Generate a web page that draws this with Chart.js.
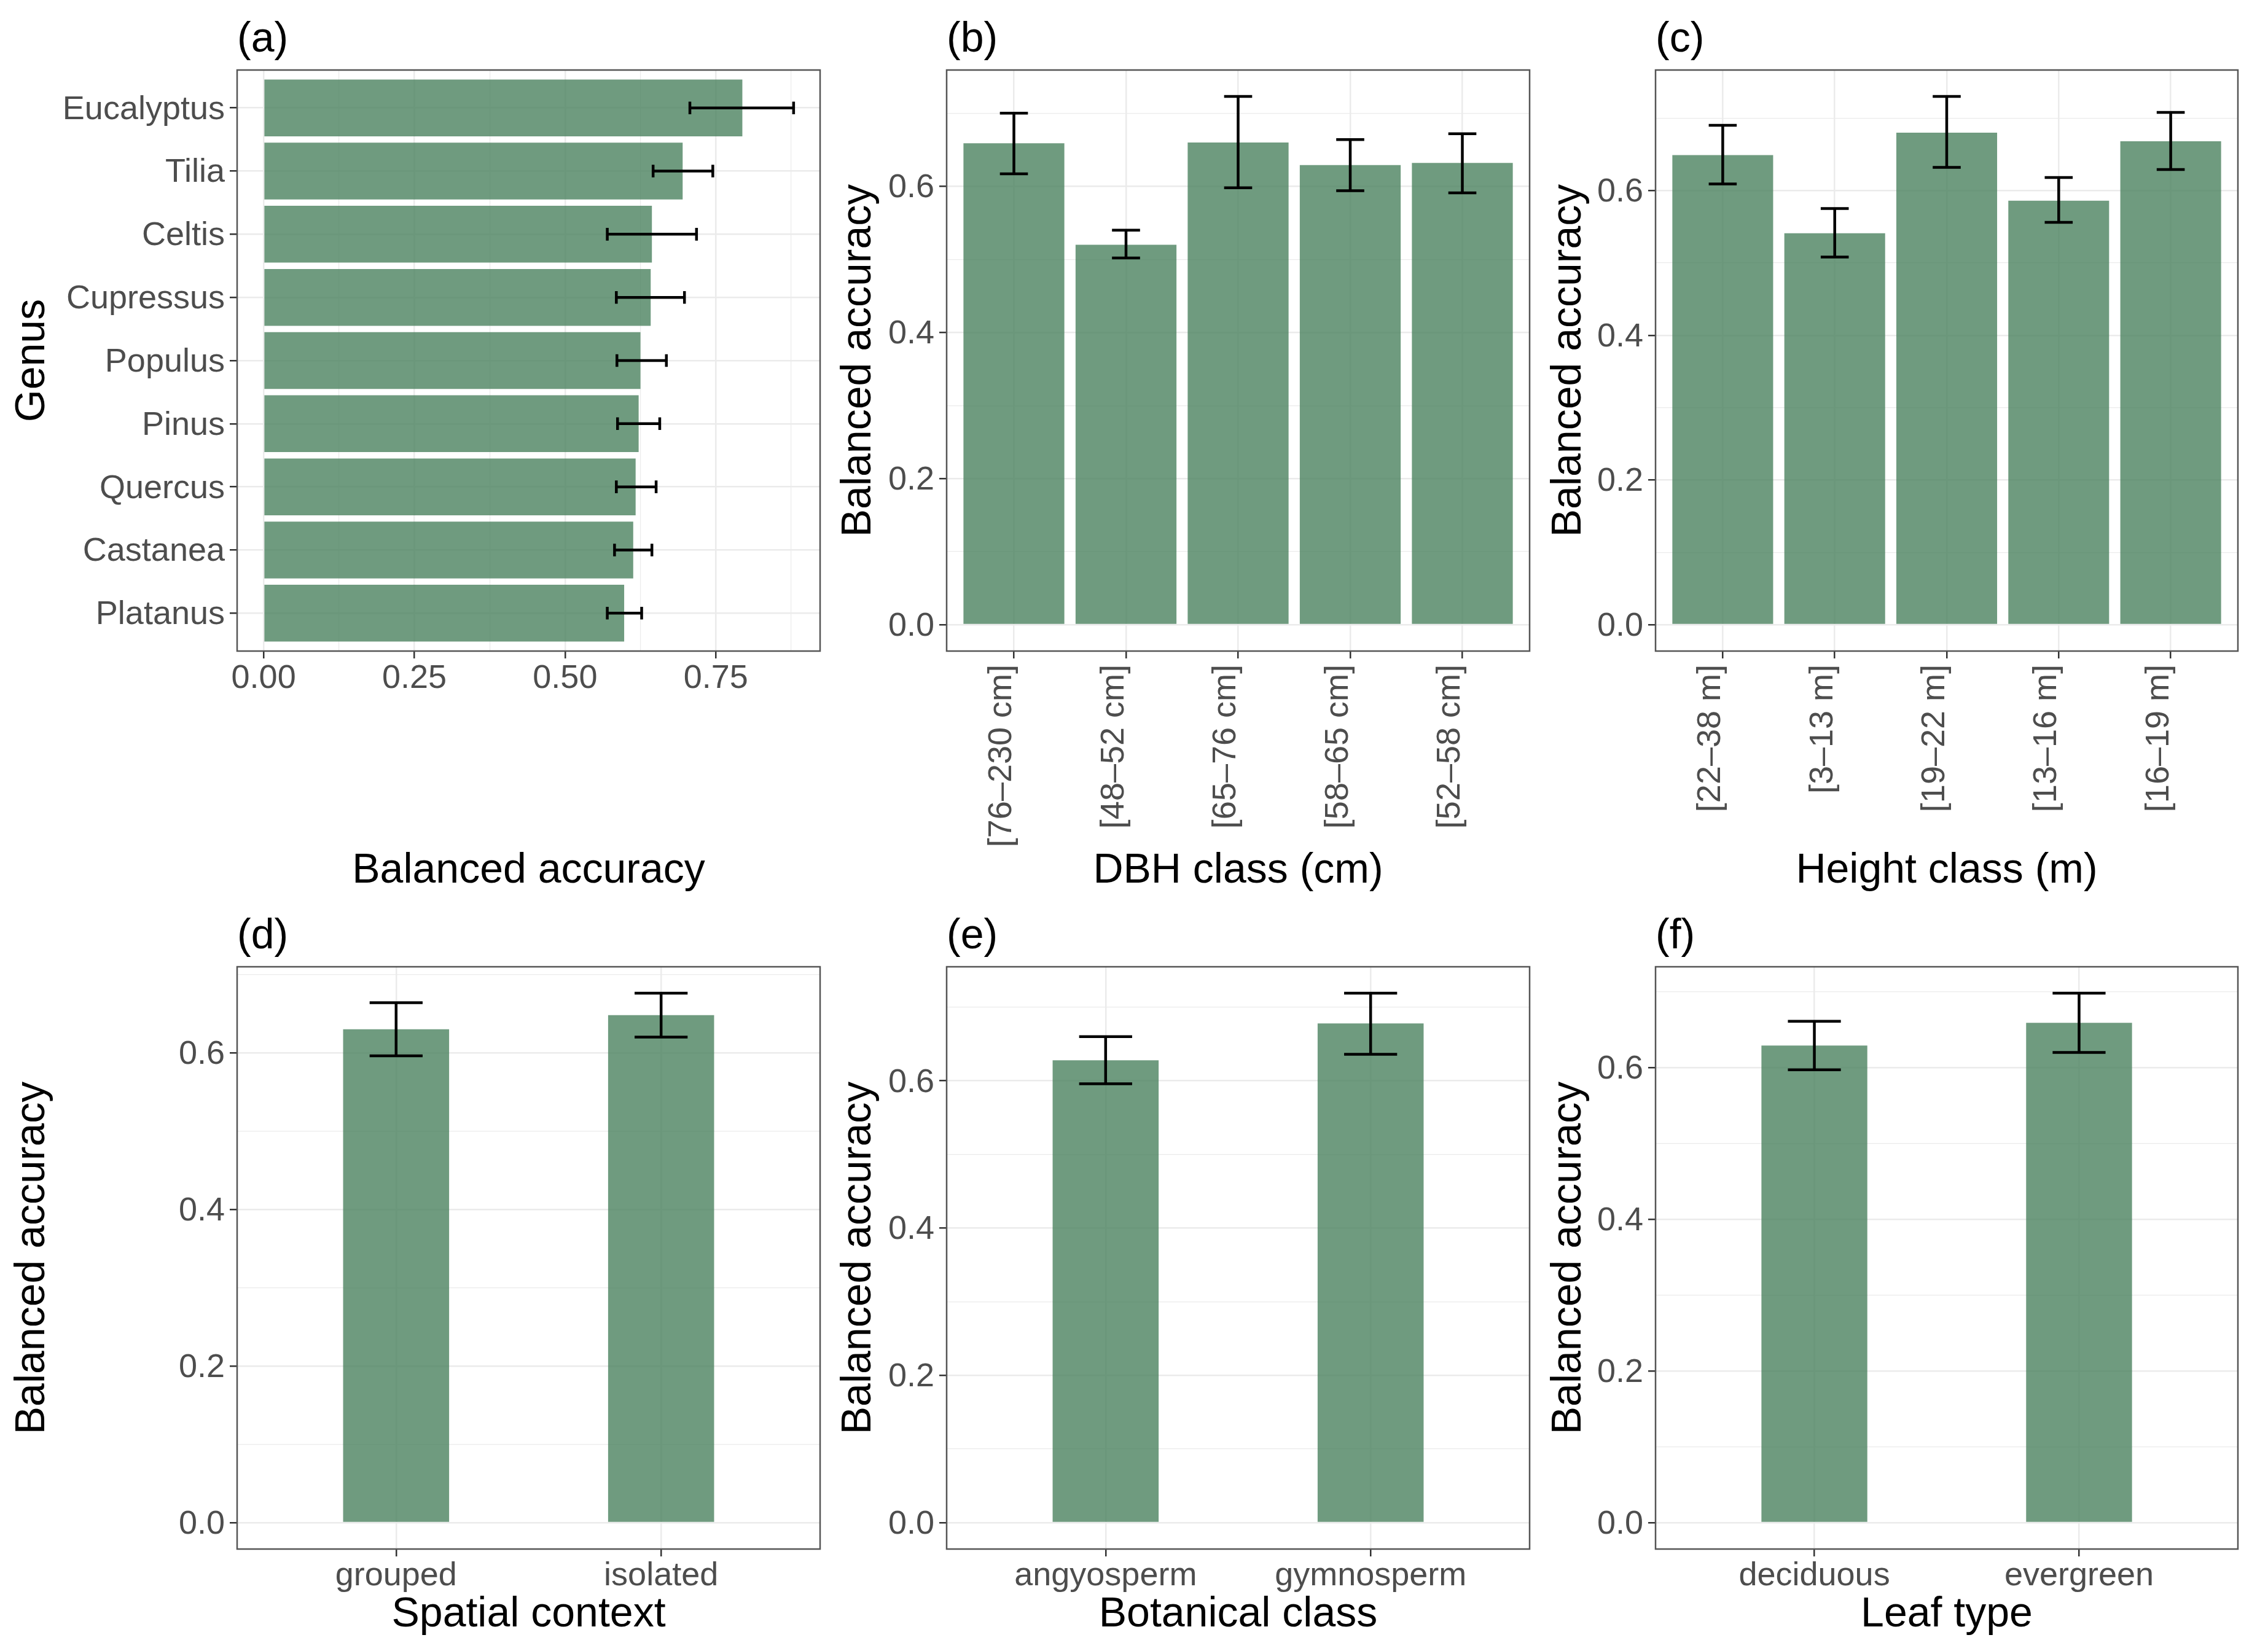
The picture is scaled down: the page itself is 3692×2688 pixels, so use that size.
<!DOCTYPE html>
<html>
<head>
<meta charset="utf-8">
<script src="https://cdn.jsdelivr.net/npm/chart.js@4.4.1/dist/chart.umd.min.js"></script>
<style>
  html, body { margin: 0; padding: 0; background: #ffffff; }
  body { width: 3692px; height: 2688px; position: relative; overflow: hidden; }
  .panel { position: absolute; }
  .panel canvas { display: block; }
</style>
</head>
<body>
<div class="panel" id="pa"><canvas id="ca"></canvas></div>
<div class="panel" id="pb"><canvas id="cb"></canvas></div>
<div class="panel" id="pc"><canvas id="cc"></canvas></div>
<div class="panel" id="pd"><canvas id="cd"></canvas></div>
<div class="panel" id="pe"><canvas id="ce"></canvas></div>
<div class="panel" id="pf"><canvas id="cf"></canvas></div>
<script>
// ---------------- DATA ----------------
const genusNames = ['Eucalyptus', 'Tilia', 'Celtis', 'Cupressus', 'Populus', 'Pinus', 'Quercus', 'Castanea', 'Platanus'];
const genusAcc   = [0.794, 0.695, 0.644, 0.642, 0.625, 0.622, 0.617, 0.613, 0.598];
const genusLo    = [0.707, 0.646, 0.570, 0.585, 0.586, 0.587, 0.585, 0.582, 0.570];
const genusHi    = [0.879, 0.745, 0.718, 0.698, 0.668, 0.657, 0.651, 0.644, 0.627];

const dbhClasses = ['[76–230 cm]', '[48–52 cm]', '[65–76 cm]', '[58–65 cm]', '[52–58 cm]'];
const dbhAcc     = [0.659, 0.520, 0.660, 0.629, 0.632];
const dbhLo      = [0.617, 0.502, 0.598, 0.594, 0.591];
const dbhHi      = [0.700, 0.540, 0.723, 0.664, 0.672];

const heightClasses = ['[22–38 m]', '[3–13 m]', '[19–22 m]', '[13–16 m]', '[16–19 m]'];
const heightAcc     = [0.649, 0.541, 0.680, 0.586, 0.668];
const heightLo      = [0.609, 0.508, 0.632, 0.556, 0.629];
const heightHi      = [0.690, 0.575, 0.730, 0.618, 0.708];

const contextCats = ['grouped', 'isolated'];
const contextAcc  = [0.630, 0.648];
const contextLo   = [0.596, 0.620];
const contextHi   = [0.664, 0.676];

const botanicalCats = ['angyosperm', 'gymnosperm'];
const botanicalAcc  = [0.628, 0.678];
const botanicalLo   = [0.596, 0.636];
const botanicalHi   = [0.660, 0.719];

const leafCats = ['deciduous', 'evergreen'];
const leafAcc  = [0.629, 0.659];
const leafLo   = [0.597, 0.620];
const leafHi   = [0.661, 0.698];

// tick values (major + minor grid positions)
const genusAccTicks = [0, 0.125, 0.25, 0.375, 0.5, 0.625, 0.75, 0.875];
const accTicks      = [0, 0.1, 0.2, 0.3, 0.4, 0.5, 0.6, 0.7];

// ---------------- STYLE ----------------
const FONT = "'Liberation Sans', Arial, Helvetica, sans-serif";
const TITLE_SIZE = 68;
const TICK_SIZE = 54;
const BAR_COLOR = 'rgba(75,130,95,0.8)';
const GRID_COLOR = '#ebebeb';
const TICK_LABEL_COLOR = '#4d4d4d';

Chart.defaults.font.family = FONT;

const errBarPlugin = {
  id: 'errbars',
  afterDatasetsDraw(chart, args, o) {
    const ctx = chart.ctx;
    const xs = chart.scales.x, ys = chart.scales.y;
    ctx.save();
    ctx.strokeStyle = '#000000';
    ctx.lineWidth = 4.5;
    ctx.lineCap = 'butt';
    o.lo.forEach((lo, i) => {
      const hi = o.hi[i];
      ctx.beginPath();
      if (o.horizontal) {
        const y = ys.getPixelForValue(i);
        const h = Math.abs(ys.getPixelForValue(i + o.cap / 2) - y);
        const a = xs.getPixelForValue(lo), b = xs.getPixelForValue(hi);
        ctx.moveTo(a, y); ctx.lineTo(b, y);
        ctx.moveTo(a, y - h); ctx.lineTo(a, y + h);
        ctx.moveTo(b, y - h); ctx.lineTo(b, y + h);
      } else {
        const x = xs.getPixelForValue(i);
        const w = Math.abs(xs.getPixelForValue(i + o.cap / 2) - x);
        const a = ys.getPixelForValue(lo), b = ys.getPixelForValue(hi);
        ctx.moveTo(x, a); ctx.lineTo(x, b);
        ctx.moveTo(x - w, a); ctx.lineTo(x + w, a);
        ctx.moveTo(x - w, b); ctx.lineTo(x + w, b);
      }
      ctx.stroke();
    });
    ctx.restore();
  }
};

const borderPlugin = {
  id: 'panelBorder',
  afterDraw(chart) {
    const {ctx, chartArea: a} = chart;
    ctx.save();
    ctx.strokeStyle = '#555555';
    ctx.lineWidth = 2.5;
    ctx.strokeRect(a.left, a.top, a.right - a.left, a.bottom - a.top);
    ctx.restore();
  }
};

function isMajor(v, step) {
  const r = v / step;
  return Math.abs(r - Math.round(r)) < 1e-6;
}

function makePanel(p) {
  const div = document.getElementById(p.div);
  const W = p.box.x1 - p.box.x0, H = p.box.y1 - p.box.y0;
  div.style.left = p.box.x0 + 'px';
  div.style.top = p.box.y0 + 'px';
  div.style.width = W + 'px';
  div.style.height = H + 'px';
  const canvas = document.getElementById(p.canvas);
  canvas.width = W; canvas.height = H;
  canvas.style.width = W + 'px'; canvas.style.height = H + 'px';

  const leftW = p.plot.L - p.box.x0;
  const bottomH = p.box.y1 - p.plot.B;
  const topH = p.plot.T - p.box.y0;
  const rightPad = p.box.x1 - p.plot.R;

  const hiMax = Math.max(...p.hi);
  const pad = 0.05 * hiMax;
  const n = p.cats.length;

  const titleFont = {family: FONT, size: TITLE_SIZE, weight: 'normal', lineHeight: 1.2};
  const tickFont = {family: FONT, size: TICK_SIZE, weight: 'normal', lineHeight: 1.2};

  const catScale = {
    type: 'linear',
    min: -0.6, max: n - 0.4,
    offset: false,
    afterBuildTicks: s => { s.ticks = p.cats.map((c, i) => ({value: i})); },
    ticks: {
      autoSkip: false,
      font: tickFont, color: TICK_LABEL_COLOR, padding: p.catPad,
      labelOffset: p.catLabelOffset,
      minRotation: p.rotate ? 90 : 0, maxRotation: p.rotate ? 90 : 0,
      callback: v => p.cats[Math.round(v)] ?? ''
    },
    grid: {offset: false, color: GRID_COLOR, lineWidth: 2.5, tickColor: '#333333', tickWidth: 2.5, tickLength: 12},
    border: {display: false},
    title: {display: true, text: p.catTitle, color: '#000000', font: titleFont, padding: 0}
  };
  const valScale = {
    type: 'linear',
    min: -pad, max: hiMax + pad,
    afterBuildTicks: s => { s.ticks = p.valTicks.map(v => ({value: v})); },
    ticks: {
      autoSkip: false,
      font: tickFont, color: TICK_LABEL_COLOR, padding: p.valPad,
      labelOffset: p.valLabelOffset,
      maxRotation: 0, minRotation: 0,
      callback: v => isMajor(v, p.majorStep) ? Number(v).toFixed(p.decimals) : ''
    },
    grid: {
      color: GRID_COLOR,
      lineWidth: c => (c.tick && isMajor(c.tick.value, p.majorStep)) ? 2.5 : 1.2,
      tickColor: c => (c.tick && isMajor(c.tick.value, p.majorStep)) ? '#333333' : 'rgba(0,0,0,0)',
      tickWidth: 2.5, tickLength: 12
    },
    border: {display: false},
    title: {display: true, text: p.valTitle, color: '#000000', font: titleFont, padding: 0}
  };

  let xScale, yScale, data;
  if (p.horizontal) {
    xScale = Object.assign({}, valScale, {position: 'bottom', afterFit: s => { s.height = bottomH; }});
    yScale = Object.assign({}, catScale, {position: 'left', reverse: true, afterFit: s => { s.width = leftW; }});
    data = p.cats.map((c, i) => ({x: p.vals[i], y: i}));
  } else {
    xScale = Object.assign({}, catScale, {position: 'bottom', afterFit: s => { s.height = bottomH; }});
    yScale = Object.assign({}, valScale, {position: 'left', afterFit: s => { s.width = leftW; }});
    data = p.cats.map((c, i) => ({x: i, y: p.vals[i]}));
  }

  new Chart(canvas, {
    type: 'bar',
    data: {
      datasets: [{
        data: data,
        backgroundColor: BAR_COLOR,
        borderWidth: 0,
        barPercentage: p.barPct,
        categoryPercentage: 1.0
      }]
    },
    options: {
      indexAxis: p.horizontal ? 'y' : 'x',
      responsive: false,
      maintainAspectRatio: false,
      devicePixelRatio: 1,
      animation: false,
      layout: {padding: {left: 0, top: 0, right: rightPad, bottom: 0}},
      scales: {x: xScale, y: yScale},
      plugins: {
        legend: {display: false},
        tooltip: {enabled: false},
        title: {
          display: true, text: p.letter, align: 'start', fullSize: false,
          color: '#000000', font: titleFont,
          padding: {top: 24, bottom: topH - 24 - TITLE_SIZE * 1.2}
        },
        errbars: {lo: p.lo, hi: p.hi, cap: p.cap, horizontal: p.horizontal}
      }
    },
    plugins: [errBarPlugin, borderPlugin]
  });
}

const rowTop = {y0: 0, T: 114, B: 1060, y1: 1459};
const rowBot = {y0: 1460, T: 1574, B: 2522, y1: 2670};
const colA = {x0: 12, L: 386, R: 1335, x1: 1345};
const colB = {x0: 1357, L: 1541, R: 2490, x1: 2500};
const colC = {x0: 2513, L: 2695, R: 3643, x1: 3653};

function geom(col, row) {
  return {box: {x0: col.x0, x1: col.x1, y0: row.y0, y1: row.y1}, plot: {L: col.L, R: col.R, T: row.T, B: row.B}};
}

makePanel(Object.assign(geom(colA, rowTop), {
  div: 'pa', canvas: 'ca', letter: '(a)', horizontal: true,
  cats: genusNames, vals: genusAcc, lo: genusLo, hi: genusHi,
  valTicks: genusAccTicks, majorStep: 0.25, decimals: 2,
  catTitle: 'Genus', valTitle: 'Balanced accuracy',
  barPct: 0.9, cap: 0.2, rotate: false, catPad: 8, valPad: 1,
  catLabelOffset: 3, valLabelOffset: 0
}));
makePanel(Object.assign(geom(colB, rowTop), {
  div: 'pb', canvas: 'cb', letter: '(b)', horizontal: false,
  cats: dbhClasses, vals: dbhAcc, lo: dbhLo, hi: dbhHi,
  valTicks: accTicks, majorStep: 0.2, decimals: 1,
  catTitle: 'DBH class (cm)', valTitle: 'Balanced accuracy',
  barPct: 0.9, cap: 0.25, rotate: true, catPad: 10, valPad: 8,
  catLabelOffset: -19, valLabelOffset: 3
}));
makePanel(Object.assign(geom(colC, rowTop), {
  div: 'pc', canvas: 'cc', letter: '(c)', horizontal: false,
  cats: heightClasses, vals: heightAcc, lo: heightLo, hi: heightHi,
  valTicks: accTicks, majorStep: 0.2, decimals: 1,
  catTitle: 'Height class (m)', valTitle: 'Balanced accuracy',
  barPct: 0.9, cap: 0.25, rotate: true, catPad: 10, valPad: 8,
  catLabelOffset: -19, valLabelOffset: 3
}));
makePanel(Object.assign(geom(colA, rowBot), {
  div: 'pd', canvas: 'cd', letter: '(d)', horizontal: false,
  cats: contextCats, vals: contextAcc, lo: contextLo, hi: contextHi,
  valTicks: accTicks, majorStep: 0.2, decimals: 1,
  catTitle: 'Spatial context', valTitle: 'Balanced accuracy',
  barPct: 0.4, cap: 0.2, rotate: false, catPad: 0, valPad: 8,
  catLabelOffset: 0, valLabelOffset: 3
}));
makePanel(Object.assign(geom(colB, rowBot), {
  div: 'pe', canvas: 'ce', letter: '(e)', horizontal: false,
  cats: botanicalCats, vals: botanicalAcc, lo: botanicalLo, hi: botanicalHi,
  valTicks: accTicks, majorStep: 0.2, decimals: 1,
  catTitle: 'Botanical class', valTitle: 'Balanced accuracy',
  barPct: 0.4, cap: 0.2, rotate: false, catPad: 0, valPad: 8,
  catLabelOffset: 0, valLabelOffset: 3
}));
makePanel(Object.assign(geom(colC, rowBot), {
  div: 'pf', canvas: 'cf', letter: '(f)', horizontal: false,
  cats: leafCats, vals: leafAcc, lo: leafLo, hi: leafHi,
  valTicks: accTicks, majorStep: 0.2, decimals: 1,
  catTitle: 'Leaf type', valTitle: 'Balanced accuracy',
  barPct: 0.4, cap: 0.2, rotate: false, catPad: 0, valPad: 8,
  catLabelOffset: 0, valLabelOffset: 3
}));
</script>
</body>
</html>
